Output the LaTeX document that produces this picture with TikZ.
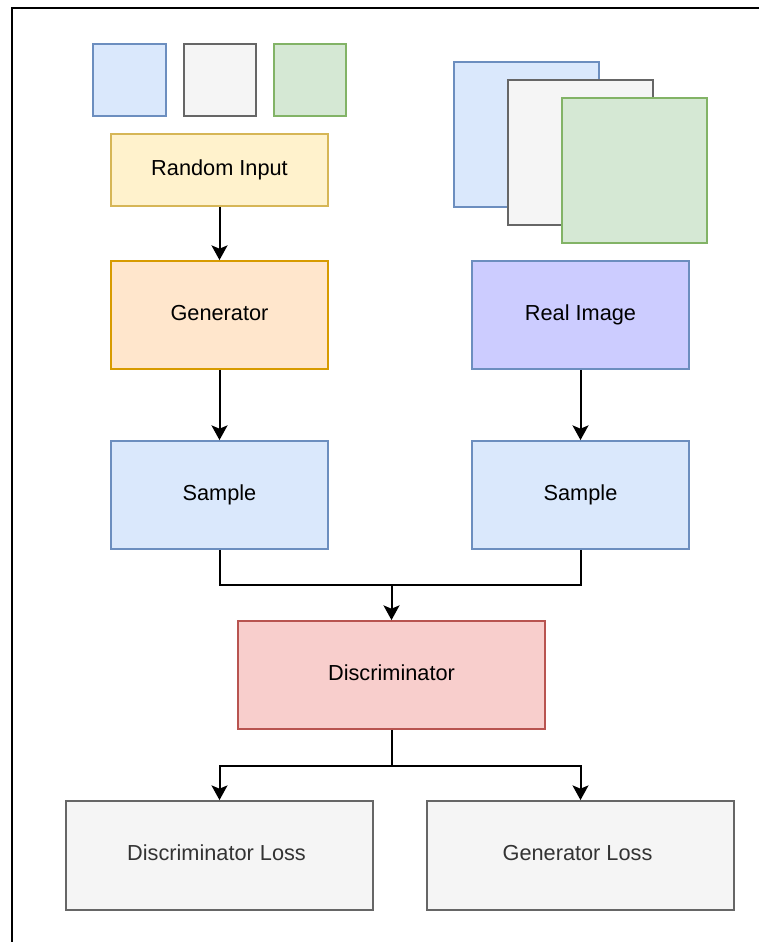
\documentclass[tikz,border=0pt]{standalone}
\usepackage{fontspec}
\setmainfont{Liberation Sans}
\usetikzlibrary{arrows.meta}
\definecolor{blueF}{HTML}{DAE8FC}\definecolor{blueS}{HTML}{6C8EBF}
\definecolor{grayF}{HTML}{F5F5F5}\definecolor{grayS}{HTML}{666666}
\definecolor{greenF}{HTML}{D5E8D4}\definecolor{greenS}{HTML}{82B366}
\definecolor{yellowF}{HTML}{FFF2CC}\definecolor{yellowS}{HTML}{D6B656}
\definecolor{orangeF}{HTML}{FFE6CC}\definecolor{orangeS}{HTML}{D79B00}
\definecolor{purpleF}{HTML}{CCCCFF}
\definecolor{redF}{HTML}{F8CECC}\definecolor{redS}{HTML}{B85450}
\definecolor{lossT}{HTML}{333333}
\tikzset{
  box/.style={draw, line width=1.4pt, inner sep=0pt, text height=0.82em, text depth=0pt,
    font=\fontsize{16.3}{19}\selectfont},
  wire/.style={line width=1.5pt, -{Stealth[length=11pt,width=12pt,inset=2.5pt]}},
  plain/.style={line width=1.5pt}
}
\begin{document}
\begin{tikzpicture}[x=0.75pt,y=-0.75pt]
\useasboundingbox (0,0) rectangle (759,942);
\fill[white] (0,0) rectangle (759,942);
% outer frame (open to the right and bottom)
\draw[line width=1.7pt] (12,945) -- (12,8) -- (762,8);

% small colour swatches
\node[box, fill=blueF, draw=blueS, minimum width=73*0.75pt, minimum height=72*0.75pt] (s1) at (129.5,80) {};
\node[box, fill=grayF, draw=grayS, minimum width=72*0.75pt, minimum height=72*0.75pt] (s2) at (220,80) {};
\node[box, fill=greenF, draw=greenS, minimum width=72*0.75pt, minimum height=72*0.75pt] (s3) at (310,80) {};

% stacked image channels
\node[box, fill=blueF, draw=blueS, minimum width=145*0.75pt, minimum height=145*0.75pt] (c1) at (526.5,134.5) {};
\node[box, fill=grayF, draw=grayS, minimum width=145*0.75pt, minimum height=145*0.75pt] (c2) at (580.5,152.5) {};
\node[box, fill=greenF, draw=greenS, minimum width=145*0.75pt, minimum height=145*0.75pt] (c3) at (634.5,170.5) {};

% main blocks
\node[box, fill=yellowF, draw=yellowS, minimum width=217*0.75pt, minimum height=72*0.75pt] (rin) at (219.5,170) {Random Input};
\node[box, fill=orangeF, draw=orangeS, minimum width=217*0.75pt, minimum height=108*0.75pt] (gen) at (219.5,315) {Generator};
\node[box, fill=purpleF, draw=blueS, minimum width=217*0.75pt, minimum height=108*0.75pt] (real) at (580.5,315) {Real Image};
\node[box, fill=blueF, draw=blueS, minimum width=217*0.75pt, minimum height=108*0.75pt] (sl) at (219.5,495) {Sample};
\node[box, fill=blueF, draw=blueS, minimum width=217*0.75pt, minimum height=108*0.75pt] (sr) at (580.5,495) {Sample};
\node[box, fill=redF, draw=redS, minimum width=307*0.75pt, minimum height=108*0.75pt] (disc) at (391.5,675) {Discriminator};
\node[box, fill=grayF, draw=grayS, text=lossT, minimum width=307*0.75pt, minimum height=109*0.75pt] (dl) at (219.5,855.5) {Discriminator Loss\hspace*{4.5pt}};
\node[box, fill=grayF, draw=grayS, text=lossT, minimum width=307*0.75pt, minimum height=109*0.75pt] (gl) at (580.5,855.5) {Generator Loss\hspace*{4.5pt}};

% connectors
\draw[wire] (rin.south) -- (gen.north);
\draw[wire] (gen.south) -- (sl.north);
\draw[wire] (real.south) -- (sr.north);
\coordinate (mj) at (391.5,585);
\draw[plain] (sl.south) |- (mj);
\draw[plain] (sr.south) |- (mj);
\draw[wire] (mj) -- (disc.north);
\coordinate (sj) at (391.5,766);
\draw[plain] (disc.south) -- (sj);
\draw[wire] (sj) -| (dl.north);
\draw[wire] (sj) -| (gl.north);
\end{tikzpicture}
\end{document}
